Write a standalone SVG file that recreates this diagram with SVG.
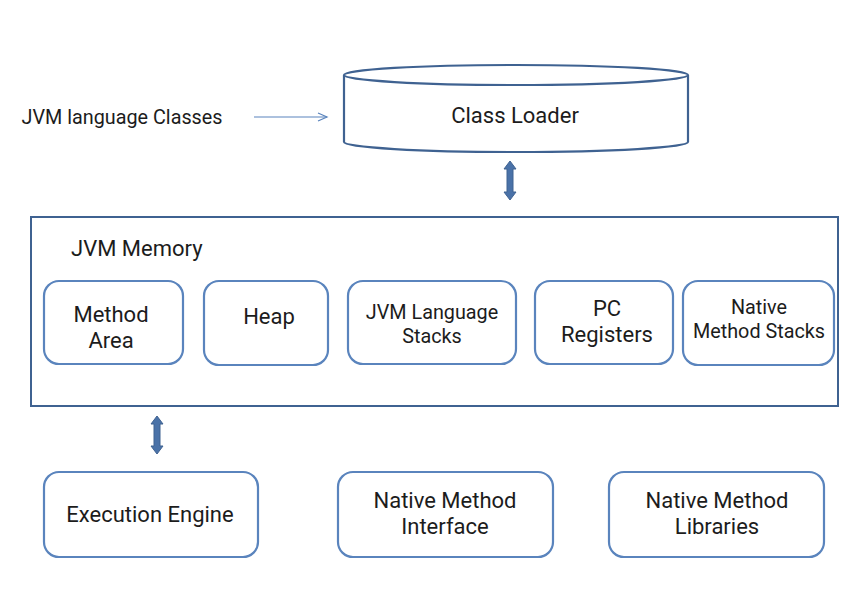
<svg xmlns="http://www.w3.org/2000/svg" width="855" height="590" viewBox="0 0 855 590">
<style>
text{font-family:Roboto,"Noto Sans","Liberation Sans",sans-serif;fill:#1c1c1c;text-anchor:middle}
.box{fill:#fff;stroke:#5a84bd;stroke-width:2.2}
.main{fill:none;stroke:#3f6291;stroke-width:2}
.big{font-size:22px}
.mid{font-size:19.8px}
</style>
<defs>
<marker id="ah" markerWidth="12" markerHeight="12" refX="10" refY="5" orient="auto" markerUnits="userSpaceOnUse">
<path d="M1,1 L10,5 L1,9" fill="none" stroke="#5a84bd" stroke-width="1.2"/>
</marker>
</defs>
<rect width="855" height="590" fill="#fff"/>
<g id="connectors">
<line x1="254" y1="117" x2="327" y2="117" stroke="#5a84bd" stroke-width="1.2" marker-end="url(#ah)"/>
<path d="M510,161 L516,169 L513,169 L513,192 L516,192 L510,200 L504,192 L507,192 L507,169 L504,169 Z" fill="#4a72a8" stroke="#3f6291" stroke-width="1"/>
<path d="M157,416 L163,424 L160,424 L160,446 L163,446 L157,454 L151,446 L154,446 L154,424 L151,424 Z" fill="#4a72a8" stroke="#3f6291" stroke-width="1"/>
</g>
<g id="input-label">
<text x="122" y="124" class="mid">JVM language Classes</text>
</g>
<g id="class-loader">
<path d="M344,75 L344,142 A172,10 0 0 0 688,142 L688,75" fill="#fff" stroke="#3f6291" stroke-width="2.2"/>
<ellipse cx="516" cy="75" rx="172" ry="10" fill="#fff" stroke="#3f6291" stroke-width="2.2"/>
<text x="515" y="123" class="big">Class Loader</text>
</g>
<g id="jvm-memory">
<rect x="31" y="217" width="807" height="189" class="main"/>
<text x="71" y="256" class="big" style="text-anchor:start">JVM Memory</text>
</g>
<g id="method-area">
<rect x="44" y="281" width="139" height="83" rx="15" class="box"/>
<text x="111" y="322" class="big">Method</text>
<text x="111" y="348" class="big">Area</text>
</g>
<g id="heap">
<rect x="204" y="281" width="124" height="84" rx="15" class="box"/>
<text x="269" y="324" class="big">Heap</text>
</g>
<g id="jvm-language-stacks">
<rect x="348" y="281" width="168" height="83" rx="15" class="box"/>
<text x="432" y="318.5" class="mid">JVM Language</text>
<text x="432" y="342.5" class="mid">Stacks</text>
</g>
<g id="pc-registers">
<rect x="535" y="281" width="138" height="83" rx="15" class="box"/>
<text x="607" y="316" class="big">PC</text>
<text x="607" y="342" class="big">Registers</text>
</g>
<g id="native-method-stacks">
<rect x="683" y="281" width="151" height="84" rx="15" class="box"/>
<text x="759" y="313.5" class="mid">Native</text>
<text x="759" y="337.5" class="mid">Method Stacks</text>
</g>
<g id="execution-engine">
<rect x="44" y="472" width="214" height="85" rx="15" class="box"/>
<text x="150" y="522" class="big">Execution Engine</text>
</g>
<g id="native-method-interface">
<rect x="338" y="472" width="215" height="85" rx="15" class="box"/>
<text x="445" y="508" class="big">Native Method</text>
<text x="445" y="534" class="big">Interface</text>
</g>
<g id="native-method-libraries">
<rect x="609" y="472" width="215" height="85" rx="15" class="box"/>
<text x="717" y="508" class="big">Native Method</text>
<text x="717" y="534" class="big">Libraries</text>
</g>
</svg>
